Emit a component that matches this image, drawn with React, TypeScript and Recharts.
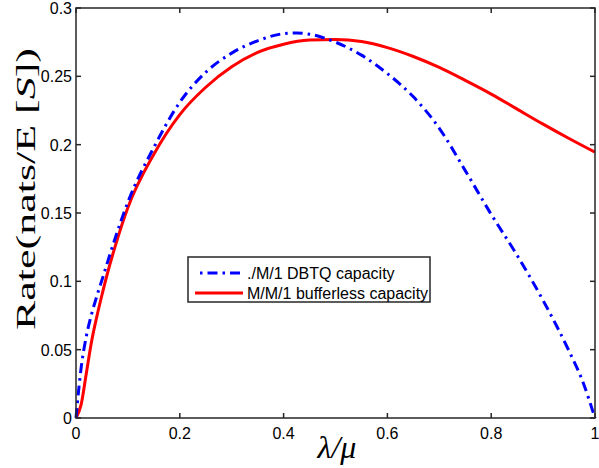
import { LineChart, Line, XAxis, YAxis, Legend } from 'recharts';

// values
const dbtqX = [
  0, 0.005, 0.01, 0.02, 0.03, 0.04, 0.05, 0.075, 0.1, 0.15, 0.2, 0.25, 0.3,
  0.35, 0.4, 0.425, 0.45, 0.5, 0.55, 0.6, 0.65, 0.7, 0.75, 0.8, 0.85, 0.9,
  0.95, 0.975, 1,
];
const dbtqRate = [
  0, 0.02, 0.037, 0.06, 0.076, 0.089, 0.101, 0.131, 0.158, 0.198, 0.231,
  0.253, 0.267, 0.276, 0.2812, 0.2817, 0.2808, 0.275, 0.2655, 0.252, 0.235,
  0.212, 0.181, 0.149, 0.119, 0.086, 0.049, 0.028, 0,
];

const bufX = [
  0, 0.01, 0.02, 0.03, 0.04, 0.05, 0.06, 0.075, 0.1, 0.15, 0.2, 0.25, 0.3,
  0.35, 0.4, 0.45, 0.5, 0.55, 0.6, 0.65, 0.7, 0.75, 0.8, 0.85, 0.9, 0.95, 1,
];
const bufRate = [
  0, 0.01, 0.033, 0.056, 0.074, 0.09, 0.105, 0.125, 0.154, 0.193, 0.222,
  0.242, 0.257, 0.2675, 0.2735, 0.2765, 0.277, 0.2755, 0.271, 0.2645, 0.2565,
  0.247, 0.237, 0.226, 0.215, 0.2045, 0.1945,
];

const xTicks = [0, 0.2, 0.4, 0.6, 0.8, 1];
const yTicks = [0, 0.05, 0.1, 0.15, 0.2, 0.25, 0.3];

const seriesNames = ['./M/1 DBTQ capacity', 'M/M/1 bufferless capacity'];

const dbtqData = dbtqX.map((x, i) => ({ x, rate: dbtqRate[i] }));
const bufData = bufX.map((x, i) => ({ x, rate: bufRate[i] }));

const W = 599;
const H = 468;
const LEFT = 76;
const TOP = 8;
const RIGHT = 595;
const BOTTOM = 418;
const TICK = 5;

const SANS = '"Liberation Sans", Arial, Helvetica, sans-serif';
const SERIF = '"Liberation Serif", "Times New Roman", serif';
const AXIS = '#262626';
const BLUE_DASH = '10 5 2.5 5';

function fmt(v: number) {
  return String(Number(v.toFixed(2)));
}

// bottom tick also draws the matching tick on the top edge of the box
function BottomTick({ x, payload }: any) {
  return (
    <g>
      <line x1={x} x2={x} y1={BOTTOM} y2={BOTTOM - TICK} stroke={AXIS} strokeWidth={1.5} />
      <line x1={x} x2={x} y1={TOP} y2={TOP + TICK} stroke={AXIS} strokeWidth={1.5} />
      <text
        x={x}
        y={439}
        textAnchor="middle"
        fontFamily={SANS}
        fontSize={16}
        fill="#000"
      >
        {fmt(payload.value)}
      </text>
    </g>
  );
}

// left tick also draws the matching tick on the right edge
function LeftTick({ y, payload }: any) {
  return (
    <g>
      <line x1={LEFT} x2={LEFT + TICK} y1={y} y2={y} stroke={AXIS} strokeWidth={1.5} />
      <line x1={RIGHT} x2={RIGHT - TICK} y1={y} y2={y} stroke={AXIS} strokeWidth={1.5} />
      <text
        x={LEFT - 4}
        y={y + 6}
        textAnchor="end"
        fontFamily={SANS}
        fontSize={16}
        fill="#000"
      >
        {fmt(payload.value)}
      </text>
    </g>
  );
}

function LegendBox() {
  return (
    <svg width={244} height={47} style={{ display: 'block' }}>
      <rect x={1} y={1} width={242} height={45} fill="#fff" stroke={AXIS} strokeWidth={1.5} />
      <line
        x1={8}
        x2={56}
        y1={17}
        y2={17}
        stroke="#0000ff"
        strokeWidth={3}
        strokeDasharray={BLUE_DASH}
        strokeDashoffset={10}
      />
      <text x={60} y={22.5} fontFamily={SANS} fontSize={16} fill="#000">
        {seriesNames[0]}
      </text>
      <line x1={8} x2={56} y1={37} y2={37} stroke="#ff0000" strokeWidth={3} />
      <text x={60} y={42.5} fontFamily={SANS} fontSize={16} fill="#000">
        {seriesNames[1]}
      </text>
    </svg>
  );
}

export default function App() {
  return (
    <div
      style={{
        position: 'absolute',
        left: 0,
        top: 0,
        width: W,
        height: H,
        background: '#fff',
      }}
    >
      <LineChart
        width={W}
        height={H}
        margin={{
          top: TOP,
          right: W - RIGHT,
          bottom: H - BOTTOM - 30,
          left: 0,
        }}
      >
        <XAxis
          dataKey="x"
          type="number"
          domain={[0, 1]}
          ticks={xTicks}
          interval={0}
          height={30}
          tickLine={false}
          axisLine={false}
          tick={<BottomTick />}
        />
        <YAxis
          type="number"
          domain={[0, 0.3]}
          ticks={yTicks}
          interval={0}
          width={LEFT}
          tickLine={false}
          axisLine={false}
          tick={<LeftTick />}
        />
        <Line
          data={bufData}
          dataKey="rate"
          name={seriesNames[1]}
          type="monotone"
          stroke="#ff0000"
          strokeWidth={3}
          dot={false}
          isAnimationActive={false}
        />
        <Line
          data={dbtqData}
          dataKey="rate"
          name={seriesNames[0]}
          type="monotone"
          stroke="#0000ff"
          strokeWidth={3}
          strokeDasharray={BLUE_DASH}
          dot={false}
          isAnimationActive={false}
        />
        <Legend
          layout="horizontal"
          verticalAlign="middle"
          content={<LegendBox />}
          wrapperStyle={{ left: 187, top: 256, width: 244, height: 47 }}
        />
      </LineChart>

      <svg
        width={W}
        height={H}
        style={{ position: 'absolute', left: 0, top: 0, pointerEvents: 'none' }}
      >
        <rect
          x={LEFT}
          y={TOP}
          width={RIGHT - LEFT}
          height={BOTTOM - TOP}
          fill="none"
          stroke={AXIS}
          strokeWidth={1.5}
        />
        <text
          x={35}
          y={189}
          transform="rotate(-90, 35, 189)"
          textAnchor="middle"
          fontFamily={SERIF}
          fontSize={27}
          textLength={282}
          lengthAdjust="spacingAndGlyphs"
          fill="#000"
        >
          Rate(nats/E [<tspan fontStyle="italic">S</tspan>])
        </text>
        <text
          x={337}
          y={458}
          textAnchor="middle"
          fontFamily={SERIF}
          fontStyle="italic"
          fontSize={32}
          fill="#000"
        >
          λ/μ
        </text>
      </svg>
    </div>
  );
}
